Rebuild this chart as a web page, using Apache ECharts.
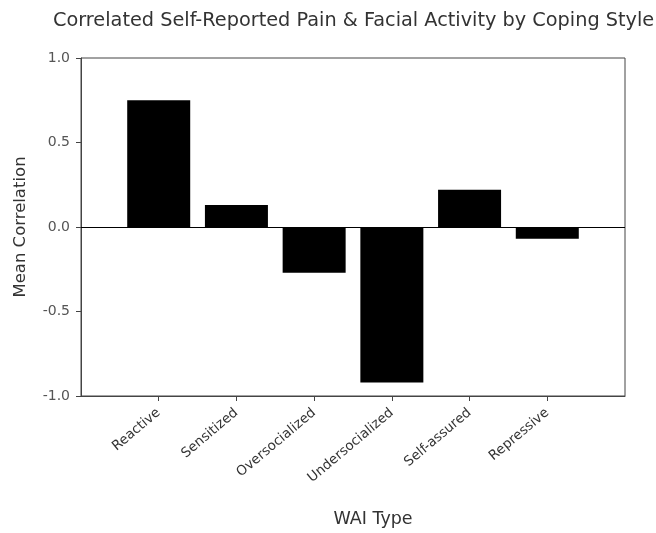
<!DOCTYPE html>
<html>
<head>
<meta charset="utf-8">
<script src="https://cdn.jsdelivr.net/npm/echarts@6/dist/echarts.min.js"></script>
<style>html,body{margin:0;padding:0;background:#fff}#c{width:656px;height:533px}</style>
</head>
<body>
<div id="c"></div>
<script>
var categories = ['Reactive', 'Sensitized', 'Oversocialized', 'Undersocialized', 'Self-assured', 'Repressive'];
var values = [0.75, 0.13, -0.27, -0.92, 0.22, -0.07];
var yTicks = [-1.0, -0.5, 0.0, 0.5, 1.0];

var cats = [''].concat(categories, ['']);
var vals = [null].concat(values, [null]);
var FONT = 'DejaVu Sans';
function inner(i) { return i > 0 && i < cats.length - 1; }
var chart = echarts.init(document.getElementById('c'));
chart.setOption({
  animation: false,
  backgroundColor: '#fff',
  title: {
    text: 'Correlated Self-Reported Pain & Facial Activity by Coping Style',
    left: 48, top: 6,
    textStyle: { fontFamily: FONT, fontSize: 19.3, fontWeight: 'normal', color: '#333' }
  },
  grid: { left: 81, right: 31, top: 58, bottom: 137, show: true, borderColor: '#444', borderWidth: 1,
    containLabel: false, outerBoundsMode: 'none' },
  xAxis: {
    type: 'category', data: cats, boundaryGap: false,
    name: 'WAI Type', nameLocation: 'middle', nameGap: 114,
    nameTextStyle: { fontFamily: FONT, fontSize: 17.5, color: '#333', padding: [0, 0, 0, 40] },
    axisLine: { onZero: false, lineStyle: { color: '#444' } },
    axisTick: { length: 5, lineStyle: { color: '#444' }, interval: inner },
    axisLabel: { rotate: 40, margin: 15, fontFamily: FONT, fontSize: 13.5, color: '#333', interval: inner },
    splitLine: { show: false }
  },
  yAxis: {
    type: 'value', min: yTicks[0], max: yTicks[yTicks.length - 1], interval: 0.5,
    name: 'Mean Correlation', nameLocation: 'middle', nameGap: 52,
    nameTextStyle: { fontFamily: FONT, fontSize: 16.5, color: '#333' },
    axisLine: { show: true, lineStyle: { color: '#444' } },
    axisTick: { show: true, length: 5, lineStyle: { color: '#444' } },
    axisLabel: { fontFamily: FONT, fontSize: 14, color: '#555', margin: 11,
      formatter: function (v) { return v.toFixed(1); } },
    splitLine: { show: false }
  },
  series: [{
    type: 'bar', data: vals, barWidth: 63,
    itemStyle: { color: '#000' },
    markLine: {
      silent: true, symbol: 'none', label: { show: false },
      lineStyle: { color: '#000', type: 'solid', width: 1 },
      data: [{ yAxis: 0 }]
    }
  }]
});
</script>
</body>
</html>
